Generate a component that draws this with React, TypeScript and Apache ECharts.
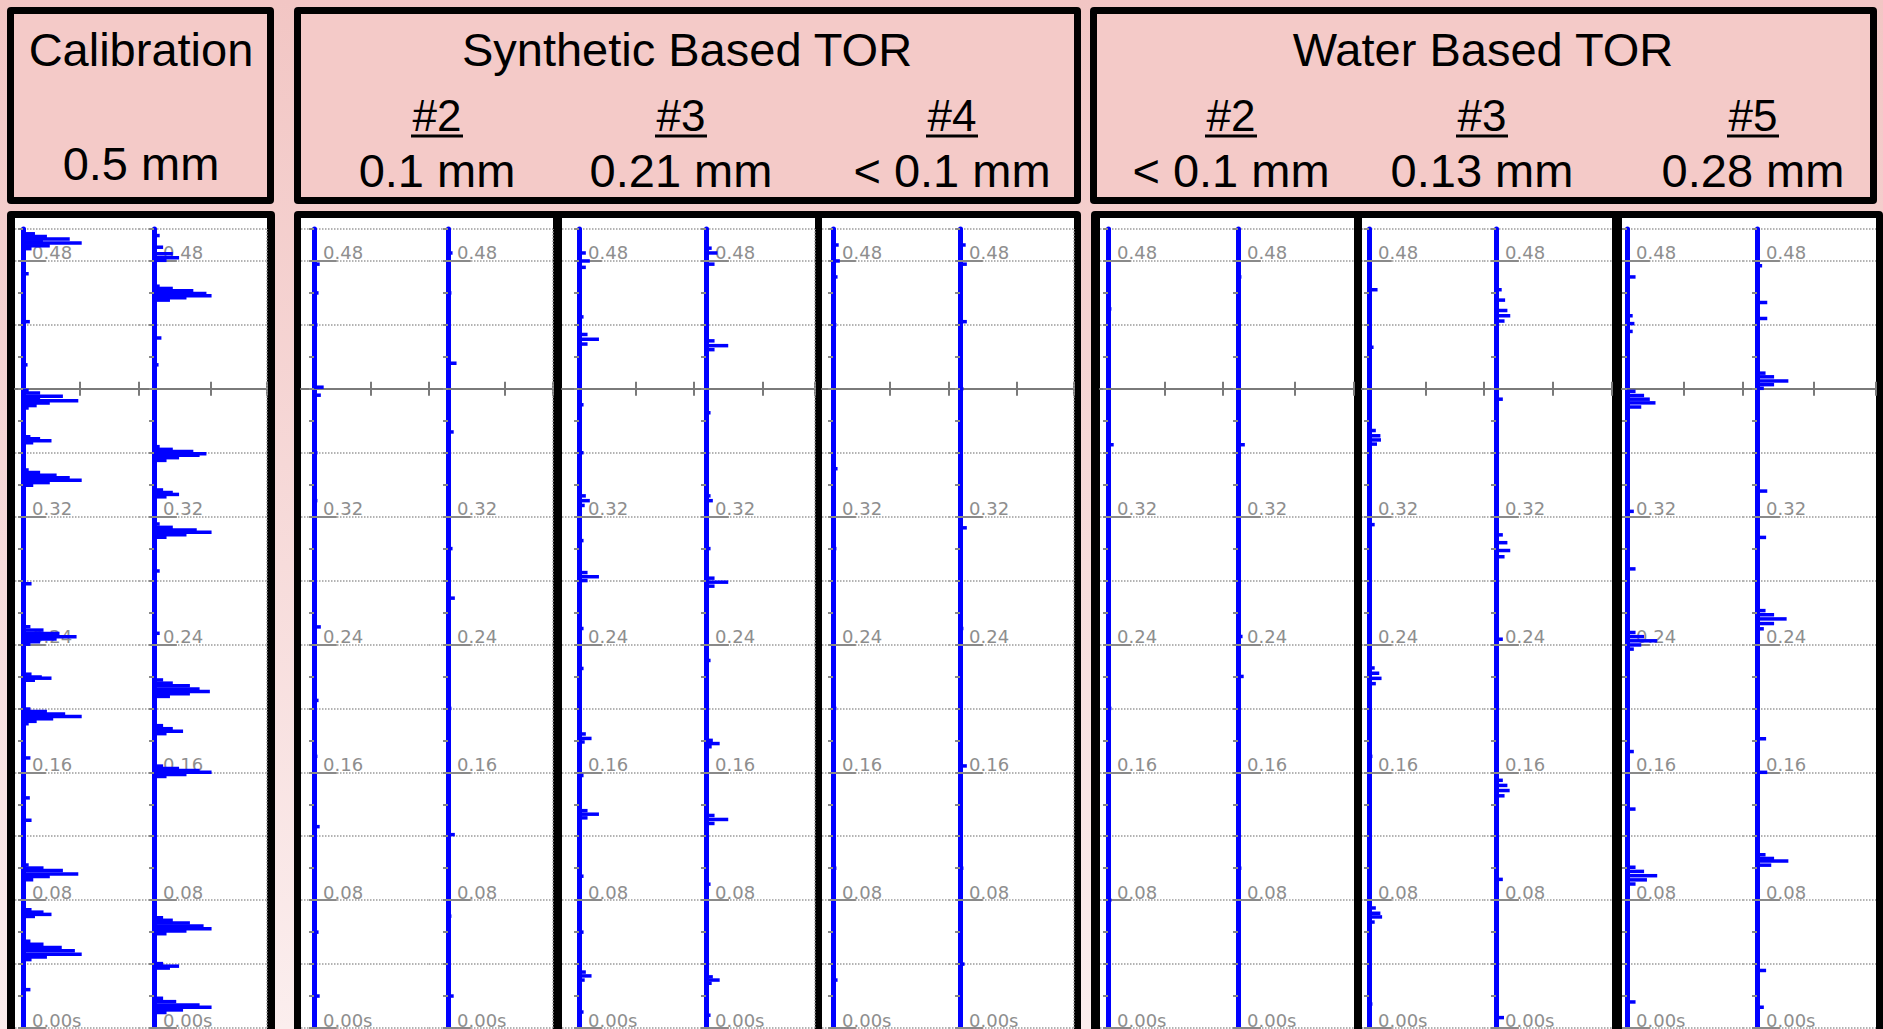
import React, { useEffect, useRef } from 'react';
import * as echarts from 'echarts';

const W = 1883;
const H = 1029;

// ---------------- DATA ----------------
const GROUP_TITLES = ['Calibration', 'Synthetic Based TOR', 'Water Based TOR'];
const CALIBRATION_VALUE = '0.5 mm';
const SAMPLE_IDS = ['#2', '#3', '#4', '#2', '#3', '#5'];
const WEAR_VALUES = ['0.1 mm', '0.21 mm', '< 0.1 mm', '< 0.1 mm', '0.13 mm', '0.28 mm'];
const TIME_LABELS = [0.48, 0.32, 0.24, 0.16, 0.08, 0.0];

// each entry: [time (s), amplitude (units of one x tick)]
const CAL_L: number[][] = [
  [0.4986, 0.05], [0.497, 0.21], [0.4953, 0.42], [0.4937, 0.82], [0.492, 0.35], [0.4912, 1.03], [0.4895, 0.47], [0.4877, 0.15],
  [0.472, 0.1], [0.442, 0.12], [0.415, 0.08],
  [0.399, 0.1], [0.3974, 0.3], [0.3953, 0.7], [0.3938, 0.3], [0.3926, 0.97], [0.3911, 0.47], [0.3895, 0.24], [0.388, 0.1],
  [0.37, 0.13], [0.3687, 0.3], [0.3675, 0.5], [0.3662, 0.18],
  [0.3492, 0.1], [0.3476, 0.3], [0.3459, 0.59], [0.3444, 0.82], [0.3428, 1.03], [0.3413, 0.47], [0.3397, 0.18],
  [0.278, 0.15],
  [0.2511, 0.13], [0.249, 0.36], [0.2469, 0.64], [0.2448, 0.94], [0.2434, 0.59], [0.2417, 0.3], [0.2402, 0.13],
  [0.2214, 0.15], [0.2197, 0.33], [0.2189, 0.5], [0.2176, 0.21],
  [0.1996, 0.13], [0.1981, 0.42], [0.1965, 0.74], [0.195, 1.03], [0.1935, 0.53], [0.1919, 0.24], [0.1904, 0.1],
  [0.169, 0.13], [0.144, 0.12], [0.13, 0.15],
  [0.102, 0.1], [0.1001, 0.36], [0.0985, 0.7], [0.0964, 0.97], [0.0948, 0.47], [0.0927, 0.18],
  [0.074, 0.15], [0.0725, 0.36], [0.0711, 0.5], [0.0698, 0.21],
  [0.0543, 0.13], [0.0524, 0.36], [0.0503, 0.68], [0.0483, 0.91], [0.0462, 1.03], [0.0445, 0.42], [0.0428, 0.15],
  [0.024, 0.13],
];
const CAL_R: number[][] = [
  [0.4959, 0.1], [0.4886, 0.16], [0.4845, 0.33], [0.482, 0.44], [0.4804, 0.22],
  [0.4642, 0.1], [0.4628, 0.33], [0.4613, 0.69], [0.4597, 0.92], [0.4582, 1.01], [0.457, 0.57], [0.4555, 0.28],
  [0.4318, 0.13], [0.415, 0.08],
  [0.3638, 0.1], [0.3621, 0.33], [0.3607, 0.69], [0.3594, 0.92], [0.3584, 0.8], [0.3569, 0.44], [0.3552, 0.22],
  [0.3367, 0.16], [0.3351, 0.33], [0.3339, 0.44], [0.3324, 0.22],
  [0.3154, 0.1], [0.3133, 0.33], [0.3117, 0.75], [0.3103, 1.01], [0.3087, 0.57], [0.3071, 0.22],
  [0.286, 0.1], [0.247, 0.1],
  [0.2178, 0.16], [0.2158, 0.33], [0.2141, 0.63], [0.2122, 0.8], [0.2106, 0.98], [0.2091, 0.63], [0.2075, 0.28],
  [0.1892, 0.16], [0.1873, 0.33], [0.1857, 0.51], [0.1842, 0.22],
  [0.1639, 0.16], [0.1624, 0.44], [0.1611, 0.8], [0.1601, 1.01], [0.1587, 0.57], [0.1574, 0.22],
  [0.069, 0.16], [0.0674, 0.33], [0.0657, 0.63], [0.0638, 0.87], [0.0621, 1.01], [0.0607, 0.57], [0.059, 0.22],
  [0.0403, 0.16], [0.0387, 0.44], [0.0375, 0.28],
  [0.0186, 0.16], [0.0165, 0.39], [0.0144, 0.8], [0.013, 1.01], [0.0113, 0.51], [0.0097, 0.22],
];
const SYN2_L: number[][] = [
  [0.478, 0.1], [0.46, 0.08], [0.44, 0.06], [0.401, 0.17], [0.396, 0.12], [0.36, 0.06], [0.33, 0.06], [0.29, 0.05],
  [0.251, 0.12], [0.205, 0.08], [0.17, 0.06], [0.126, 0.1], [0.09, 0.05], [0.06, 0.08], [0.02, 0.1],
];
const SYN2_R: number[][] = [
  [0.485, 0.08], [0.46, 0.06], [0.416, 0.15], [0.373, 0.1], [0.3, 0.08], [0.269, 0.12], [0.2, 0.06],
  [0.121, 0.12], [0.07, 0.06], [0.02, 0.1],
];
const SYN3_L: number[][] = [
  [0.485, 0.12], [0.48, 0.19], [0.476, 0.12], [0.445, 0.08], [0.434, 0.15], [0.431, 0.35], [0.428, 0.15],
  [0.39, 0.08], [0.36, 0.08], [0.333, 0.12], [0.33, 0.19], [0.327, 0.1], [0.305, 0.08],
  [0.285, 0.15], [0.2824, 0.35], [0.28, 0.15], [0.25, 0.08], [0.225, 0.08],
  [0.184, 0.12], [0.1812, 0.22], [0.179, 0.1], [0.158, 0.08],
  [0.136, 0.15], [0.1338, 0.35], [0.1315, 0.15], [0.095, 0.08], [0.06, 0.08],
  [0.035, 0.12], [0.0326, 0.22], [0.03, 0.1], [0.01, 0.08],
];
const SYN3_R: number[][] = [
  [0.488, 0.1], [0.485, 0.2], [0.478, 0.15], [0.43, 0.15], [0.427, 0.39], [0.4245, 0.15], [0.385, 0.08],
  [0.333, 0.08], [0.33, 0.12], [0.3, 0.08], [0.2815, 0.15], [0.279, 0.39], [0.2765, 0.15], [0.23, 0.08],
  [0.18, 0.12], [0.178, 0.24], [0.176, 0.1], [0.133, 0.15], [0.1305, 0.39], [0.128, 0.15], [0.09, 0.08],
  [0.032, 0.12], [0.03, 0.24], [0.028, 0.1], [0.008, 0.08],
];
const SYN4_L: number[][] = [
  [0.49, 0.1], [0.48, 0.12], [0.47, 0.08], [0.44, 0.06], [0.35, 0.08], [0.3, 0.06], [0.2, 0.06],
  [0.15, 0.05], [0.1, 0.06], [0.03, 0.08],
];
const SYN4_R: number[][] = [
  [0.49, 0.1], [0.478, 0.12], [0.442, 0.12], [0.4, 0.06], [0.313, 0.12], [0.25, 0.06], [0.164, 0.12],
  [0.1, 0.06], [0.04, 0.08],
];
const WAT2_L: number[][] = [
  [0.45, 0.06], [0.365, 0.1], [0.31, 0.05], [0.2, 0.06], [0.14, 0.05], [0.08, 0.06], [0.02, 0.05],
];
const WAT2_R: number[][] = [
  [0.47, 0.06], [0.365, 0.12], [0.245, 0.08], [0.22, 0.1], [0.1, 0.06], [0.03, 0.05],
];
const WAT3_L: number[][] = [
  [0.462, 0.15], [0.426, 0.08], [0.3739, 0.12], [0.3706, 0.2], [0.368, 0.21], [0.3654, 0.14], [0.315, 0.1],
  [0.2253, 0.1], [0.222, 0.18], [0.2188, 0.22], [0.2155, 0.12], [0.17, 0.06],
  [0.0751, 0.12], [0.0718, 0.2], [0.0695, 0.23], [0.0663, 0.1], [0.015, 0.06],
];
const WAT3_R: number[][] = [
  [0.462, 0.1], [0.4555, 0.16], [0.449, 0.2], [0.4457, 0.25], [0.4424, 0.15], [0.3935, 0.12],
  [0.3086, 0.12], [0.3037, 0.2], [0.2988, 0.25], [0.2949, 0.15], [0.2433, 0.12],
  [0.155, 0.12], [0.1518, 0.2], [0.1486, 0.24], [0.1453, 0.15], [0.093, 0.12], [0.0065, 0.14],
];
const WAT5_L: number[][] = [
  [0.47, 0.15], [0.4457, 0.1], [0.4408, 0.13], [0.4359, 0.1],
  [0.3984, 0.15], [0.3958, 0.3], [0.3935, 0.4], [0.3912, 0.5], [0.3886, 0.25], [0.3233, 0.12], [0.2873, 0.15],
  [0.2475, 0.15], [0.2449, 0.3], [0.2423, 0.53], [0.2397, 0.25], [0.2371, 0.12], [0.173, 0.12], [0.137, 0.15],
  [0.1006, 0.15], [0.098, 0.3], [0.0953, 0.53], [0.0927, 0.35], [0.0901, 0.15], [0.0163, 0.15],
];
const WAT5_R: number[][] = [
  [0.477, 0.09], [0.454, 0.18], [0.444, 0.18],
  [0.4098, 0.15], [0.4075, 0.3], [0.4049, 0.55], [0.4026, 0.3], [0.4003, 0.12], [0.336, 0.18], [0.307, 0.16],
  [0.2612, 0.15], [0.2586, 0.3], [0.256, 0.52], [0.2531, 0.3], [0.2498, 0.12], [0.181, 0.16], [0.16, 0.18],
  [0.1084, 0.15], [0.1061, 0.3], [0.1045, 0.55], [0.1019, 0.25], [0.036, 0.16], [0.013, 0.12],
];

const TRACES = [
  [CAL_L, CAL_R],
  [SYN2_L, SYN2_R],
  [SYN3_L, SYN3_R],
  [SYN4_L, SYN4_R],
  [WAT2_L, WAT2_R],
  [WAT3_L, WAT3_R],
  [WAT5_L, WAT5_R],
];

// ---------------- LAYOUT ----------------
// plot start, middle divider, plot end, trace 1 x, trace 2 x (px)
const PANEL_LAYOUT = [
  { x0: 15, mid: 139, x1: 267, a: 23, b: 154 },
  { x0: 301, mid: 429, x1: 553, a: 314, b: 448 },
  { x0: 562, mid: 694, x1: 815, a: 579, b: 706 },
  { x0: 822, mid: 949, x1: 1074, a: 833, b: 960 },
  { x0: 1100, mid: 1223, x1: 1354, a: 1108, b: 1238 },
  { x0: 1362, mid: 1484, x1: 1612, a: 1369, b: 1496 },
  { x0: 1622, mid: 1743, x1: 1876, a: 1627, b: 1757 },
];
const PX_PER_UNIT = 57;
const PLOT_TOP = 229;
const PLOT_H = 802;
const T_AXIS = 0.4;
const T_MAX = 0.5;
const TICK_HALF = 7 * (T_MAX / PLOT_H); // 7 px expressed in seconds
const LABEL_GAP = 9;

const HEADER_BOXES = [
  { x0: 7, x1: 274 },
  { x0: 294, x1: 1081 },
  { x0: 1090, x1: 1877 },
];
const LOWER_BOXES = [
  { x0: 7, x1: 275, whites: [[15, 267]] },
  { x0: 294, x1: 1081, whites: [[301, 553], [562, 815], [822, 1074]] },
  { x0: 1091, x1: 1883, whites: [[1100, 1354], [1362, 1612], [1622, 1876]] },
];
const SUB_CENTERS = [437, 681, 952, 1231, 1482, 1753];

const GRAY = '#8a8a8a';
const AXIS_GRAY = '#7a7a7a';
const BLUE = '#0000ff';

function buildOption() {
  const grid: any[] = [];
  const xAxis: any[] = [];
  const yAxis: any[] = [];
  const series: any[] = [];

  TRACES.forEach((pair, p) => {
    const L = PANEL_LAYOUT[p];
    pair.forEach((trace, s) => {
      const gi = grid.length;
      const hs = s === 0 ? L.x0 : L.mid;
      const he = s === 0 ? L.mid : L.x1;
      const tx = s === 0 ? L.a : L.b;
      const xmin = -(tx - hs) / PX_PER_UNIT;
      const xmax = (he - tx) / PX_PER_UNIT;
      grid.push({ left: hs, top: PLOT_TOP, width: he - hs, height: PLOT_H, containLabel: false });
      xAxis.push({
        type: 'value', gridIndex: gi, min: xmin, max: xmax, position: 'bottom',
        axisLabel: { show: false }, splitLine: { show: false },
        axisLine: { show: true, onZero: true, lineStyle: { color: AXIS_GRAY, width: 2 } },
        axisTick: { show: false },
      });
      yAxis.push({
        type: 'value', gridIndex: gi, min: -T_AXIS, max: T_MAX - T_AXIS, interval: 0.04,
        axisLine: { show: true, onZero: true, lineStyle: { color: BLUE, width: 5 } },
        axisTick: { show: true, length: 5, lineStyle: { color: GRAY, width: 2 } },
        minorTick: { show: true, splitNumber: 2, length: 5, lineStyle: { color: GRAY, width: 2 } },
        axisLabel: {
          inside: true, margin: tx - hs + LABEL_GAP, align: 'left', color: '#8e8e8e', fontSize: 18, fontFamily: 'DejaVu Sans',
          verticalAlign: 'bottom', lineHeight: 16, showMinLabel: true, showMaxLabel: true,
          formatter: (v: number) => {
            const t = Math.round((v + T_AXIS) * 100) / 100;
            if (t === 0) return '0.00s';
            return TIME_LABELS.indexOf(t) >= 0 ? t.toFixed(2) : '';
          },
        },
        splitLine: { show: true, lineStyle: { type: 'dotted', color: '#9a9a9a', width: 1.5 } },
      });
      series.push({
        type: 'custom', xAxisIndex: gi, yAxisIndex: gi, z: 5, clip: false,
        data: trace.map(([t, a]) => [a, t - T_AXIS]),
        encode: { x: 0, y: 1 },
        renderItem: (_params: any, api: any) => {
          const a = api.value(0);
          const y = api.value(1);
          const p0 = api.coord([0, y]);
          const p1 = api.coord([a, y]);
          return {
            type: 'rect',
            shape: { x: p0[0], y: p0[1] - 1.75, width: p1[0] - p0[0], height: 3.5 },
            style: { fill: BLUE },
          };
        },
      });
      const mlData: any[] = TIME_LABELS.map((t) => [
        { coord: [0, t - T_AXIS], lineStyle: { type: 'solid', color: GRAY, width: 2 } },
        { coord: [0.4, t - T_AXIS] },
      ]);
      // cross ticks on the horizontal axis line (at one x unit and at the right edge)
      [1, xmax].forEach((xv) => {
        mlData.push([
          { coord: [xv, -TICK_HALF], lineStyle: { type: 'solid', color: AXIS_GRAY, width: 2 } },
          { coord: [xv, TICK_HALF] },
        ]);
      });
      mlData.push({ xAxis: xmax, lineStyle: { type: 'dotted', color: '#9a9a9a', width: 1.5 } });
      mlData.push({ yAxis: T_MAX - T_AXIS, lineStyle: { type: 'solid', color: '#c4c4c4', width: 2 } });
      series.push({
        type: 'line', xAxisIndex: gi, yAxisIndex: gi, data: [], z: 4,
        markLine: { silent: true, symbol: 'none', animation: false, label: { show: false }, data: mlData },
      });
    });
  });

  const elements: any[] = [];
  HEADER_BOXES.forEach((b) => {
    elements.push({ type: 'rect', z: -2, shape: { x: b.x0, y: 7, width: b.x1 - b.x0, height: 197, r: 4 }, style: { fill: '#000' } });
    elements.push({ type: 'rect', z: -1, shape: { x: b.x0 + 7, y: 14, width: b.x1 - b.x0 - 14, height: 183 }, style: { fill: '#f4cac8' } });
  });
  LOWER_BOXES.forEach((b) => {
    elements.push({ type: 'rect', z: -2, shape: { x: b.x0, y: 211, width: b.x1 - b.x0, height: 840, r: 4 }, style: { fill: '#000' } });
    b.whites.forEach(([a, c]) => {
      elements.push({ type: 'rect', z: -1, shape: { x: a, y: 218, width: c - a, height: 830 }, style: { fill: '#fff' } });
    });
  });
  const font = (size: number) => `${size}px "Liberation Sans", Arial, sans-serif`;
  const titleX = [141, 687, 1483];
  GROUP_TITLES.forEach((t, i) => {
    elements.push({ type: 'text', z: 10, style: { text: t, x: titleX[i], y: 49, font: font(47), fill: '#000', align: 'center', verticalAlign: 'middle' } });
  });
  elements.push({ type: 'text', z: 10, style: { text: CALIBRATION_VALUE, x: 141, y: 163, font: font(47), fill: '#000', align: 'center', verticalAlign: 'middle' } });
  SAMPLE_IDS.forEach((t, i) => {
    const cx = SUB_CENTERS[i];
    elements.push({ type: 'text', z: 10, style: { text: t, x: cx, y: 115, font: font(44), fill: '#000', align: 'center', verticalAlign: 'middle' } });
    elements.push({ type: 'line', z: 10, shape: { x1: cx - 26, y1: 136, x2: cx + 26, y2: 136 }, style: { stroke: '#000', lineWidth: 3 } });
  });
  WEAR_VALUES.forEach((t, i) => {
    elements.push({ type: 'text', z: 10, style: { text: t, x: SUB_CENTERS[i], y: 170, font: font(47), fill: '#000', align: 'center', verticalAlign: 'middle' } });
  });

  return {
    animation: false,
    backgroundColor: new echarts.graphic.LinearGradient(0, 0, 0, 1, [
      { offset: 0, color: '#f2c6c4' },
      { offset: 1, color: '#fbeeee' },
    ]),
    graphic: { elements },
    grid,
    xAxis,
    yAxis,
    series,
  };
}

export default function App() {
  const ref = useRef<HTMLDivElement>(null);
  useEffect(() => {
    document.body.style.margin = '0';
    document.body.style.overflow = 'hidden';
    const chart = echarts.init(ref.current!, null, { renderer: 'svg', width: W, height: H });
    chart.setOption(buildOption() as any);
    return () => chart.dispose();
  }, []);
  return <div ref={ref} style={{ position: 'fixed', left: 0, top: 0, width: W, height: H }} />;
}
